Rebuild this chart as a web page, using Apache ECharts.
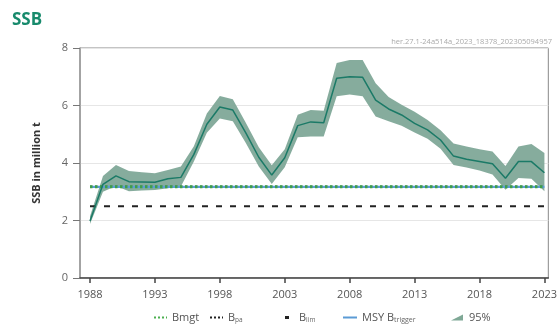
<!DOCTYPE html>
<html>
<head>
<meta charset="utf-8">
<script src="https://cdn.jsdelivr.net/npm/echarts@6/dist/echarts.min.js"></script>
<style>
  html, body { margin: 0; padding: 0; background: #ffffff; }
  #chart { width: 560px; height: 329px; }
</style>
</head>
<body>
<div id="chart"></div>
<script>
// Spawning stock biomass (million tonnes) with 95% confidence band
const years = [1988,1989,1990,1991,1992,1993,1994,1995,1996,1997,1998,1999,2000,2001,2002,2003,2004,2005,2006,2007,2008,2009,2010,2011,2012,2013,2014,2015,2016,2017,2018,2019,2020,2021,2022,2023];
const ssb  = [1.98,3.26,3.55,3.35,3.34,3.33,3.45,3.50,4.30,5.35,5.95,5.84,5.05,4.20,3.58,4.18,5.30,5.43,5.40,6.95,7.00,6.98,6.19,5.88,5.67,5.38,5.15,4.80,4.24,4.13,4.05,3.97,3.47,4.05,4.05,3.66];
const ssbLow  = [1.88,3.00,3.20,3.02,3.04,3.06,3.12,3.18,4.05,5.05,5.55,5.45,4.70,3.88,3.27,3.85,4.90,4.92,4.92,6.32,6.38,6.32,5.62,5.45,5.30,5.06,4.84,4.50,3.93,3.84,3.74,3.60,3.07,3.48,3.45,3.02];
const ssbHigh = [2.15,3.55,3.93,3.72,3.68,3.64,3.76,3.88,4.58,5.72,6.33,6.22,5.40,4.55,3.92,4.48,5.68,5.84,5.82,7.48,7.58,7.58,6.77,6.30,6.03,5.78,5.50,5.14,4.68,4.57,4.48,4.40,3.90,4.57,4.66,4.35];

// Reference points
const refYears = [1988, 2023];
const Bmgt = 3.17;
const Bpa = 3.17;
const Blim = 2.5;
const MSYBtrigger = 3.17;

const xTicks = [1988,1993,1998,2003,2008,2013,2018,2023];

const pairs = (xs, ys) => xs.map((x, i) => [x, ys[i]]);
const flat = (v) => refYears.map(y => [y, v]);

const FONT = 'Open Sans, DejaVu Sans, sans-serif';
const subStyle = { fontSize: 6.5, color: '#666', fontFamily: FONT, padding: [5, 0, 0, 0] };
const legendRich = {
  b: { fontSize: 11, color: '#555', fontFamily: FONT },
  s: subStyle,
  st: Object.assign({}, subStyle, { fontSize: 7 })
};

// Legend icons share a 14x10 box so they scale alike
const BOX = 'M0,0 M14,10 ';
const ICON_DOTS = 'path://' + BOX + 'M1,4h2v2h-2z M5,4h2v2h-2z M9,4h2v2h-2z M13,4h1v2h-1z';
const ICON_DASH = 'path://' + BOX + 'M5,3.5h4v3h-4z';
const ICON_LINE = 'path://' + BOX + 'M0,4h14v2h-14z';
const ICON_AREA = 'path://' + BOX + 'M1,8 L13,2 L13,8 Z';

const legendItems = [
  { name: 'Bmgt', icon: ICON_DOTS, color: '#4caf50', left: 153, label: '{b|Bmgt}' },
  { name: 'Bpa', icon: ICON_DOTS, color: '#222', left: 209, label: '{b|B}{s|pa}' },
  { name: 'Blim', icon: ICON_DASH, color: '#222', left: 280, label: '{b|B}{s|lim}' },
  { name: 'MSY Btrigger', icon: ICON_LINE, color: '#5b9bd5', left: 343, label: '{b|MSY B}{st|trigger}' },
  { name: '95%', icon: ICON_AREA, color: '#7fa896', left: 450, label: '{b|95%}' }
];

const legends = legendItems.map(it => ({
  left: it.left, top: 312,
  padding: 0,
  itemWidth: 14, itemHeight: 10,
  textStyle: { fontFamily: FONT, fontSize: 11, color: '#555', rich: legendRich },
  formatter: () => it.label,
  data: [{ name: it.name, icon: it.icon, itemStyle: { color: it.color } }]
}));

const chart = echarts.init(document.getElementById('chart'), null, { renderer: 'canvas' });

chart.setOption({
  animation: false,
  backgroundColor: '#ffffff',
  title: {
    text: 'SSB',
    left: 7, top: 7,
    textStyle: { fontFamily: FONT, fontWeight: 'bold', fontSize: 17, color: '#178a6c' }
  },
  graphic: [{
    type: 'text',
    right: 8, top: 38,
    style: {
      text: 'her.27.1-24a514a_2023_18378_202305094957',
      fontFamily: FONT, fontSize: 7.5, fill: '#aaaaaa'
    }
  }],
  grid: {
    left: 80, top: 48, right: 11, bottom: 51,
    show: true, borderColor: '#888', borderWidth: 1
  },
  legend: legends,
  xAxis: {
    type: 'value',
    min: 1987.23, max: 2023.3,
    axisLine: { show: true, lineStyle: { color: '#444', width: 1.5 } },
    axisTick: { show: true, length: 5, customValues: xTicks, lineStyle: { color: '#444', width: 1.5 } },
    axisLabel: {
      customValues: xTicks, margin: 11,
      fontFamily: FONT, fontSize: 11, color: '#555',
      formatter: v => String(v)
    },
    splitLine: { show: false }
  },
  yAxis: {
    type: 'value',
    min: 0, max: 8, interval: 2,
    name: 'SSB in million t',
    nameLocation: 'middle', nameGap: 38,
    nameTextStyle: { fontFamily: FONT, fontWeight: 'bold', fontSize: 11, color: '#333' },
    axisLine: { show: true, lineStyle: { color: '#999', width: 1.5 } },
    axisTick: { show: true, length: 7, lineStyle: { color: '#777', width: 1 } },
    axisLabel: { margin: 12, fontFamily: FONT, fontSize: 11, color: '#666' },
    splitLine: { show: true, lineStyle: { color: '#e6e6e6', width: 1 } }
  },
  series: [
    {
      name: '95%',
      type: 'custom',
      data: [0],
      z: 1,
      itemStyle: { color: '#7fa896' },
      renderItem: function (params, api) {
        const pts = [];
        for (let i = 0; i < years.length; i++) pts.push(api.coord([years[i], ssbHigh[i]]));
        for (let i = years.length - 1; i >= 0; i--) pts.push(api.coord([years[i], ssbLow[i]]));
        return { type: 'polygon', shape: { points: pts }, style: { fill: '#80a898', opacity: 0.95 } };
      }
    },
    {
      name: 'Blim', type: 'line', data: flat(Blim), symbol: 'none', z: 2,
      lineStyle: { color: '#222', width: 2, type: [6, 8] }, itemStyle: { color: '#222' }
    },
    {
      name: 'Bpa', type: 'line', data: flat(Bpa), symbol: 'none', z: 2,
      lineStyle: { color: '#222', width: 2, type: [2.5, 2.5] }, itemStyle: { color: '#222' }
    },
    {
      name: 'MSY Btrigger', type: 'line', data: flat(MSYBtrigger), symbol: 'none', z: 3,
      lineStyle: { color: '#5b9bd5', width: 2.2 }, itemStyle: { color: '#5b9bd5' }
    },
    {
      name: 'Bmgt', type: 'line', data: flat(Bmgt), symbol: 'none', z: 4,
      lineStyle: { color: '#3f9f48', width: 3, type: [2.5, 2.5], cap: 'butt' }, itemStyle: { color: '#4caf50' }
    },
    {
      name: 'SSB', type: 'line', data: pairs(years, ssb), symbol: 'none', z: 5,
      lineStyle: { color: '#1b7a67', width: 1.5 }, itemStyle: { color: '#1b7a67' }
    }
  ]
});
</script>
</body>
</html>
